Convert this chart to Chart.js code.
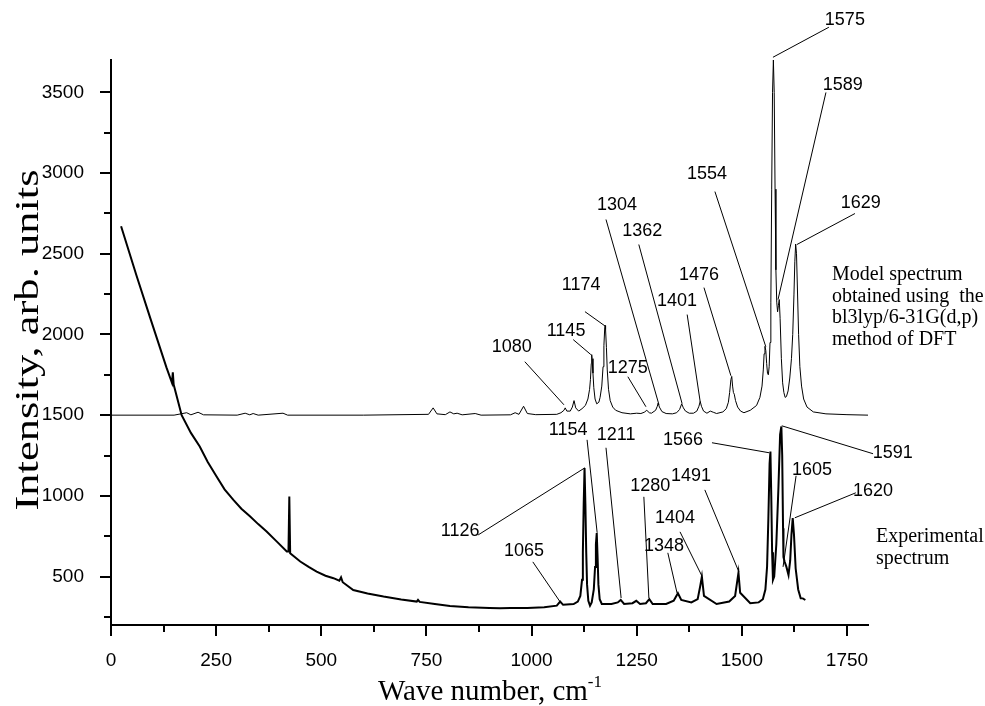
<!DOCTYPE html>
<html>
<head>
<meta charset="utf-8">
<script src="https://cdn.jsdelivr.net/npm/chart.js@4.4.1/dist/chart.umd.min.js"></script>
<style>
  html, body { margin: 0; padding: 0; background: #fff; }
  #wrap { width: 985px; height: 706px; }
</style>
</head>
<body>
<div id="wrap"><canvas id="spectra" width="985" height="706"></canvas></div>
<script>
// model spectrum (DFT), baseline shifted to 1500
const modelX = [0, 150, 180, 190, 207, 220, 300, 319, 330, 338, 350, 409, 420, 600, 755, 766, 775, 795, 806, 815, 823, 835, 866, 880, 950, 961, 970, 981, 990, 1010, 1060, 1070, 1077, 1080, 1084, 1092, 1097, 1101, 1105, 1112, 1120, 1128, 1134, 1138, 1140, 1142, 1143, 1144, 1146, 1148, 1151, 1155, 1160, 1163, 1167, 1170, 1172, 1174, 1175, 1176, 1178, 1180, 1183, 1187, 1193, 1200, 1215, 1235, 1250, 1260, 1268, 1274, 1280, 1285, 1295, 1299, 1301, 1304, 1310, 1320, 1335, 1345, 1352, 1357, 1361, 1366, 1375, 1385, 1393, 1398, 1401, 1404, 1409, 1417, 1425, 1432, 1440, 1455, 1463, 1468, 1471, 1474, 1476, 1478, 1480, 1482, 1485, 1490, 1497, 1505, 1520, 1535, 1543, 1548, 1551, 1553, 1555, 1557, 1559, 1561, 1563, 1565, 1567, 1569, 1571, 1573, 1575, 1577, 1579, 1581, 1583, 1585, 1587, 1589, 1591, 1594, 1597, 1600, 1603, 1606, 1610, 1614, 1618, 1621, 1624, 1626, 1628, 1630, 1632, 1635, 1638, 1642, 1647, 1655, 1670, 1700, 1750, 1800];
const modelY = [1500, 1500, 1515, 1502, 1518, 1502, 1500, 1512, 1502, 1510, 1500, 1512, 1500, 1500, 1505, 1545, 1508, 1503, 1520, 1508, 1512, 1502, 1510, 1500, 1502, 1515, 1505, 1555, 1510, 1503, 1505, 1515, 1530, 1545, 1525, 1525, 1550, 1590, 1545, 1525, 1540, 1560, 1600, 1660, 1720, 1820, 1875, 1850, 1760, 1670, 1600, 1570, 1580, 1610, 1680, 1800, 1930, 2040, 2055, 2030, 1920, 1780, 1660, 1590, 1550, 1530, 1515, 1508, 1512, 1510, 1518, 1530, 1515, 1512, 1530, 1555, 1575, 1550, 1522, 1510, 1508, 1515, 1535, 1570, 1545, 1525, 1512, 1512, 1525, 1555, 1585, 1555, 1525, 1512, 1525, 1518, 1510, 1520, 1540, 1580, 1640, 1720, 1740, 1680, 1640, 1630, 1590, 1550, 1525, 1515, 1530, 1560, 1610, 1680, 1780, 1880, 1926, 1900, 1820, 1760, 1750, 1800, 1950, 2200, 2900, 3500, 3700, 3500, 2900, 2400, 2200, 2140, 2180, 2216, 2100, 1850, 1700, 1640, 1610, 1615, 1650, 1730, 1850, 2000, 2250, 2450, 2560, 2500, 2300, 2000, 1800, 1680, 1600, 1550, 1520, 1508, 1503, 1500];

// experimental spectrum
const expX = [24, 60, 93, 132, 145, 147, 149, 168, 190, 211, 230, 251, 270, 291, 310, 331, 350, 370, 395, 418, 422, 424, 426, 450, 470, 489, 510, 529, 543, 547, 551, 576, 610, 648, 690, 727, 730, 734, 770, 806, 850, 900, 925, 950, 990, 1030, 1060, 1068, 1075, 1100, 1110, 1116, 1120, 1122, 1124, 1126, 1128, 1130, 1132, 1135, 1139, 1143, 1148, 1151, 1153, 1155, 1157, 1159, 1162, 1167, 1190, 1205, 1212, 1220, 1240, 1249, 1258, 1272, 1280, 1288, 1320, 1338, 1348, 1356, 1380, 1395, 1401, 1405, 1410, 1440, 1470, 1484, 1489, 1492, 1496, 1520, 1540, 1550, 1556, 1560, 1563, 1566, 1568, 1570, 1572, 1574, 1577, 1582, 1587, 1591, 1594, 1596, 1598, 1599, 1602, 1606, 1611, 1615, 1618, 1621, 1624, 1628, 1634, 1640, 1645, 1651];
const expY = [2670, 2370, 2104, 1794, 1700, 1765, 1690, 1500, 1390, 1306, 1210, 1120, 1040, 975, 920, 872, 825, 779, 715, 655, 655, 996, 645, 593, 560, 531, 505, 490, 475, 495, 465, 417, 395, 376, 358, 345, 356, 343, 330, 318, 310, 305, 303, 305, 305, 310, 320, 345, 325, 330, 345, 380, 480, 650, 950, 1172, 950, 650, 450, 350, 320, 340, 420, 560, 700, 769, 620, 450, 360, 330, 330, 340, 355, 330, 335, 350, 330, 335, 360, 330, 330, 350, 397, 355, 340, 360, 440, 500, 380, 330, 345, 380, 470, 524, 400, 335, 340, 360, 420, 560, 850, 1200, 1275, 1000, 650, 479, 500, 700, 1050, 1380, 1430, 1250, 800, 620, 590, 560, 510, 600, 760, 862, 760, 550, 420, 366, 365, 355];

// axis ticks
const xTicks = [0, 250, 500, 750, 1000, 1250, 1500, 1750];
const yTicks = [500, 1000, 1500, 2000, 2500, 3000, 3500];

// peak labels: text, peak position, where the leader starts, where the label sits
const peakNames = ['1575', '1589', '1629', '1554', '1304', '1362', '1476', '1401', '1174', '1145', '1080', '1275',
                   '1154', '1211', '1126', '1065', '1280', '1491', '1404', '1348', '1566', '1591', '1605', '1620'];
const peakAt = [[1574, 3717], [1586, 2216], [1631, 2557], [1557, 1924], [1303, 1564], [1358, 1571], [1474, 1744], [1401, 1583], [1177, 2048], [1141, 1875], [1077, 1564], [1272, 1552],
                [1156, 771], [1213, 367], [1127, 1174], [1068, 343], [1279, 367], [1493, 529], [1405, 504], [1346, 398], [1565, 1267], [1595, 1434], [1598, 560], [1626, 864]];
const leaderFrom = [[1707, 3903], [1700, 3499], [1769, 2749], [1436, 2885], [1177, 2712], [1255, 2557], [1410, 2290], [1370, 2123], [1127, 2141], [1099, 1968], [984, 1831], [1229, 1738],
                    [1132, 1347], [1177, 1298], [873, 758], [1003, 591], [1267, 994], [1412, 1037], [1353, 777], [1324, 647], [1429, 1329], [1812, 1261], [1629, 1124], [1771, 1019]];
const labelAt = [[1745, 3946], [1740, 3543], [1783, 2811], [1417, 2991], [1203, 2799], [1263, 2643], [1398, 2371], [1346, 2209], [1118, 2309], [1082, 2023], [953, 1924], [1229, 1794],
                 [1087, 1409], [1201, 1378], [830, 783], [982, 659], [1282, 1062], [1379, 1124], [1341, 864], [1315, 690], [1360, 1347], [1859, 1267], [1667, 1161], [1812, 1031]];

const modelNote = ['Model spectrum', 'obtained using  the', 'bl3lyp/6-31G(d,p)', 'method of DFT'];
const expNote = ['Experimental', 'spectrum'];

function toPoints(xs, ys) {
    return xs.map((x, i) => ({ x: x, y: ys[i] }));
}

const serif = '"Liberation Serif", "Times New Roman", serif';

// tick marks, titles, peak labels and notes
const decorations = {
    id: 'decorations',
    afterDraw(chart) {
        const ctx = chart.ctx;
        const xs = chart.scales.x;
        const ys = chart.scales.y;
        const area = chart.chartArea;
        ctx.save();
        ctx.strokeStyle = '#000';
        ctx.fillStyle = '#000';

        // ticks, major + minor, pointing outward
        ctx.lineWidth = 2;
        ctx.beginPath();
        for (let v = 0; v <= 1800; v += 125) {
            const px = Math.round(xs.getPixelForValue(v));
            const len = v % 250 === 0 ? 11 : 7;
            ctx.moveTo(px, area.bottom);
            ctx.lineTo(px, area.bottom + len);
        }
        for (let v = 250; v <= 3700; v += 250) {
            const py = Math.round(ys.getPixelForValue(v));
            const len = v % 500 === 0 ? 11 : 7;
            ctx.moveTo(area.left, py);
            ctx.lineTo(area.left - len, py);
        }
        ctx.stroke();

        // leader lines
        ctx.lineWidth = 1;
        ctx.beginPath();
        peakAt.forEach((p, i) => {
            ctx.moveTo(xs.getPixelForValue(leaderFrom[i][0]), ys.getPixelForValue(leaderFrom[i][1]));
            ctx.lineTo(xs.getPixelForValue(p[0]), ys.getPixelForValue(p[1]));
        });
        ctx.stroke();

        // peak labels
        ctx.font = '18px "Liberation Sans", Arial, sans-serif';
        ctx.textAlign = 'center';
        ctx.textBaseline = 'middle';
        peakNames.forEach((name, i) => {
            ctx.fillText(name, xs.getPixelForValue(labelAt[i][0]), ys.getPixelForValue(labelAt[i][1]));
        });

        // notes on the right
        ctx.font = '20px ' + serif;
        ctx.textAlign = 'left';
        ctx.textBaseline = 'alphabetic';
        modelNote.forEach((line, i) => {
            ctx.fillText(line, 832, 280 + i * 21.7);
        });
        expNote.forEach((line, i) => {
            ctx.fillText(line, 876, 542 + i * 21.7);
        });

        // axis titles
        ctx.font = '33px ' + serif;
        ctx.textAlign = 'center';
        ctx.textBaseline = 'middle';
        ctx.save();
        ctx.translate(29, 340);
        ctx.rotate(-Math.PI / 2);
        ctx.scale(1.35, 1);
        ctx.fillText('Intensity, arb. units', 0, 0);
        ctx.restore();

        const main = 'Wave number, cm';
        const sup = '-1';
        ctx.textAlign = 'left';
        ctx.textBaseline = 'alphabetic';
        ctx.font = '29px ' + serif;
        const wMain = ctx.measureText(main).width;
        ctx.font = '17px ' + serif;
        const wSup = ctx.measureText(sup).width;
        const x0 = 490 - (wMain + wSup) / 2;
        ctx.font = '29px ' + serif;
        ctx.fillText(main, x0, 700);
        ctx.font = '17px ' + serif;
        ctx.fillText(sup, x0 + wMain, 687);
        ctx.restore();
    }
};

const spectraChart = new Chart(document.getElementById('spectra'), {
    type: 'scatter',
    data: {
        datasets: [{
            label: 'Model spectrum',
            data: toPoints(modelX, modelY),
            showLine: true,
            borderColor: '#000',
            borderWidth: 1,
            pointRadius: 0,
            tension: 0
        }, {
            label: 'Experimental spectrum',
            data: toPoints(expX, expY),
            showLine: true,
            borderColor: '#000',
            borderWidth: 2,
            pointRadius: 0,
            tension: 0
        }]
    },
    options: {
        responsive: false,
        animation: false,
        devicePixelRatio: 1,
        layout: {
            padding: { left: 0, top: 60, right: 117, bottom: 0 }
        },
        plugins: {
            legend: { display: false },
            tooltip: { enabled: false }
        },
        scales: {
            x: {
                type: 'linear',
                min: 0,
                max: 1800,
                afterBuildTicks: scale => { scale.ticks = xTicks.map(v => ({ value: v })); },
                afterFit: scale => { scale.height = 81; },
                grid: { display: false },
                border: { display: true, color: '#000', width: 2 },
                ticks: {
                    color: '#000',
                    padding: 16,
                    maxRotation: 0,
                    callback: v => String(v),
                    font: { family: '"Liberation Sans", Arial, sans-serif', size: 19 }
                }
            },
            y: {
                type: 'linear',
                min: 200,
                max: 3700,
                afterBuildTicks: scale => { scale.ticks = yTicks.map(v => ({ value: v })); },
                afterFit: scale => { scale.width = 111; },
                grid: { display: false },
                border: { display: true, color: '#000', width: 2 },
                ticks: {
                    color: '#000',
                    padding: 19,
                    callback: v => String(v),
                    font: { family: '"Liberation Sans", Arial, sans-serif', size: 19 }
                }
            }
        }
    },
    plugins: [decorations]
});
</script>
</body>
</html>
